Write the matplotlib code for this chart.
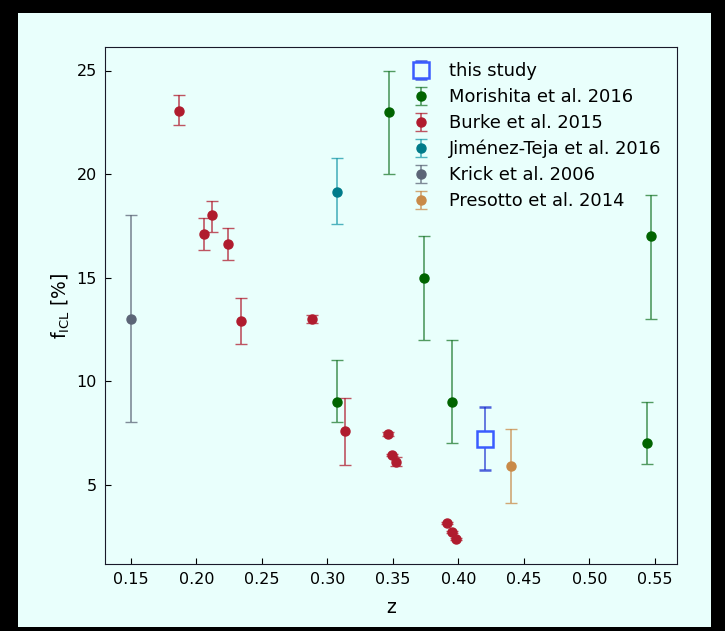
import matplotlib
matplotlib.use("Agg")
import matplotlib.pyplot as plt
from matplotlib.patches import Rectangle
import numpy as np

# ---- data ----
this_z = [0.42]
this_f = [7.2]
this_lo = [5.7]
this_hi = [8.75]

mor_z = [0.307, 0.347, 0.374, 0.395, 0.544, 0.547]
mor_f = [9.0, 23.0, 15.0, 9.0, 7.0, 17.0]
mor_lo = [8.0, 20.0, 12.0, 7.0, 6.0, 13.0]
mor_hi = [11.0, 25.0, 17.0, 12.0, 9.0, 19.0]

bur_z = [0.187, 0.206, 0.212, 0.224, 0.234, 0.288, 0.313, 0.346, 0.349, 0.352, 0.391, 0.395, 0.398]
bur_f = [23.05, 17.1, 18.0, 16.6, 12.9, 13.0, 7.6, 7.45, 6.45, 6.1, 3.15, 2.7, 2.35]
bur_lo = [22.35, 16.35, 17.2, 15.85, 11.8, 12.8, 5.95, 7.35, 6.4, 5.9, 3.1, 2.65, 2.3]
bur_hi = [23.8, 17.9, 18.7, 17.4, 14.0, 13.2, 9.2, 7.55, 6.5, 6.35, 3.2, 2.75, 2.4]

jt_z = [0.307]
jt_f = [19.15]
jt_lo = [17.6]
jt_hi = [20.75]

kr_z = [0.15]
kr_f = [13.0]
kr_lo = [8.0]
kr_hi = [18.0]

pr_z = [0.44]
pr_f = [5.9]
pr_lo = [4.1]
pr_hi = [7.7]

BG = '#e9fffc'

fig = plt.figure(figsize=(7.25, 6.31), dpi=100)
fig.patch.set_facecolor('black')
fig.patches.append(Rectangle((18/725, 4/631), (711-18)/725, (627-13)/631,
                             transform=fig.transFigure, facecolor=BG,
                             edgecolor='none', zorder=-10))
ax = fig.add_axes([105/725, 67/631, (677-105)/725, (564-47)/631])
ax.set_facecolor(BG)


def eb(z, f, lo, hi, color, ecolor, label, marker='o', ms=6.5, mfc=None, mec=None, mew=1.0):
    z = np.asarray(z); f = np.asarray(f)
    yerr = [f - np.asarray(lo), np.asarray(hi) - f]
    c = ax.errorbar(z, f, yerr=yerr, fmt=marker, color=color, ecolor=ecolor,
                    ms=ms, mfc=mfc if mfc is not None else color,
                    mec=mec if mec is not None else color, mew=mew,
                    capsize=4, elinewidth=1.2, capthick=1.2, label=label)
    for cl in c[1]:
        cl.set_alpha(0.75)
    for bl in c[2]:
        bl.set_alpha(0.75)
    return c

eb(this_z, this_f, this_lo, this_hi, '#3355ff', '#1a2fd0', 'this study', marker='s',
   ms=11, mfc=BG, mec='#3a5cff', mew=1.8)
eb(mor_z, mor_f, mor_lo, mor_hi, '#006400', '#1f7a2e', 'Morishita et al. 2016')
eb(bur_z, bur_f, bur_lo, bur_hi, '#b01c2e', '#b01c2e', 'Burke et al. 2015')
eb(jt_z, jt_f, jt_lo, jt_hi, '#007b8a', '#1a9aaa', 'Jiménez-Teja et al. 2016')
eb(kr_z, kr_f, kr_lo, kr_hi, '#5c6577', '#5c6577', 'Krick et al. 2006')
eb(pr_z, pr_f, pr_lo, pr_hi, '#c98a48', '#c98a48', 'Presotto et al. 2014')

ax.set_xticks([0.15, 0.20, 0.25, 0.30, 0.35, 0.40, 0.45, 0.50, 0.55])
ax.set_xticklabels(['0.15', '0.20', '0.25', '0.30', '0.35', '0.40', '0.45', '0.50', '0.55'])
ax.set_yticks([5, 10, 15, 20, 25])
ax.tick_params(direction='in', length=4, labelsize=11.5, top=False, right=False, pad=6)
ax.set_xlabel('z', fontsize=13.5, labelpad=8)
ax.set_ylabel(r'f$_{\rm ICL}$ [%]', fontsize=13.5, labelpad=3)
for s in ax.spines.values():
    s.set_color('#1a1a2a')

leg = ax.legend(loc='upper right', frameon=False, fontsize=12.9, handletextpad=0.6,
                labelspacing=0.44, borderaxespad=0.45, bbox_to_anchor=(1.0, 1.0))

fig.savefig('out.png', dpi=100, facecolor=fig.get_facecolor())
